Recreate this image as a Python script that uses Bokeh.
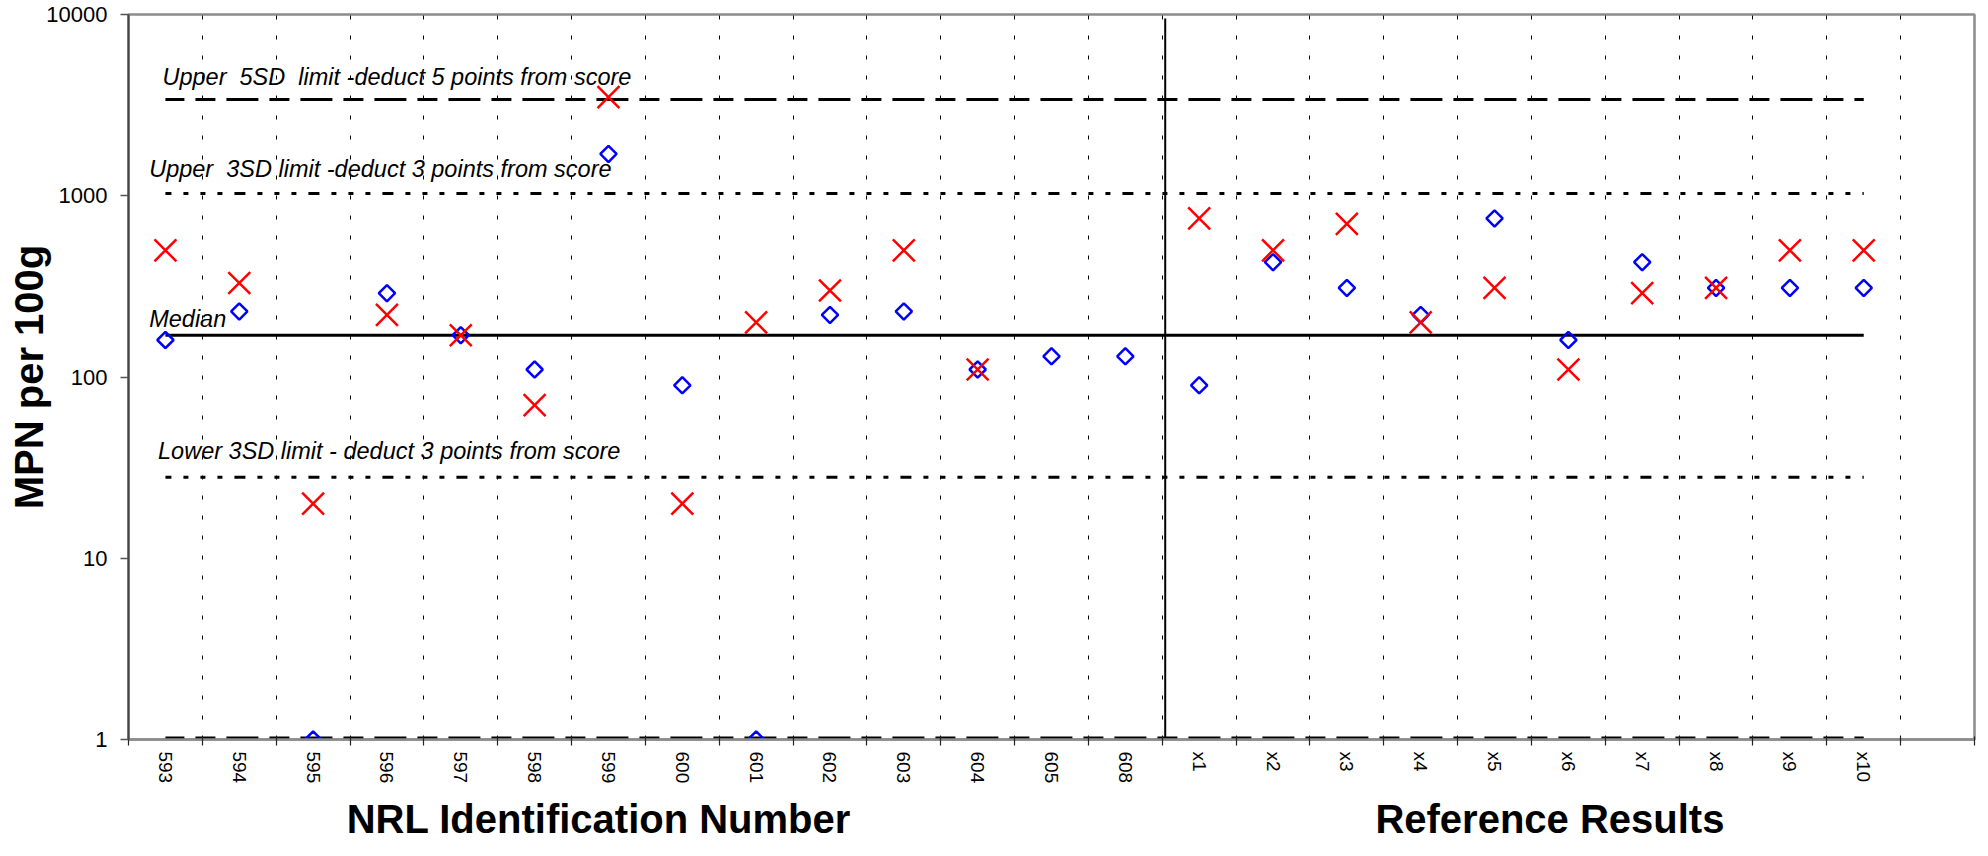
import numpy as np
from bokeh.plotting import figure
from bokeh.models import Range1d, FixedTicker, LinearAxis
from bokeh.core.properties import value
from bokeh.embed import file_html
from bokeh.resources import INLINE

# ---------------- data ----------------
nrl_ids = ["593", "594", "595", "596", "597", "598", "599", "600",
           "601", "602", "603", "604", "605", "608"]
ref_ids = ["x1", "x2", "x3", "x4", "x5", "x6", "x7", "x8", "x9", "x10"]
categories = nrl_ids + ref_ids

# blue diamonds
diamond_vals = [160, 230, 1, 290, 170, 110, 1700, 90, 1, 220, 230, 110, 130, 130,
                90, 430, 310, 220, 750, 160, 430, 310, 310, 310]
# red crosses (NaN = no result)
cross_vals = [500, 330, 20, 220, 170, 70, 3500, 20, 200, 300, 500, 110, np.nan, np.nan,
              750, 500, 700, 200, 310, 110, 290, 310, 500, 500]

upper5_limit = 3400
upper3_limit = 1030
median_value = 170
lower3_limit = 28
lower5_limit = 1

y_ticks = [1, 10, 100, 1000, 10000]
y_tick_labels = ["1", "10", "100", "1000", "10000"]

group_titles = ["NRL Identification Number", "Reference Results"]

label_upper5 = "Upper\u00a0 5SD\u00a0 limit -deduct 5 points from score"
label_upper3 = "Upper\u00a0 3SD limit -deduct 3 points from score"
label_median = "Median"
label_lower3 = "Lower 3SD limit - deduct 3 points from score"

# ---------------- figure ----------------
FONT = "Liberation Sans"
n = len(categories)
centers = [i + 0.5 for i in range(n)]
boundaries = list(range(n + 2))

p = figure(width=1988, height=856,
           x_range=Range1d(0, n + 1), y_range=Range1d(1, 10000),
           y_axis_type="log", output_backend="svg", toolbar_location=None,
           min_border_left=128, min_border_right=14, min_border_top=14,
           min_border_bottom=117)
p.background_fill_color = "white"
p.border_fill_color = "white"
p.outline_line_color = "#8c8c8c"
p.outline_line_width = 2.5

# y axis
ya = p.yaxis[0]
ya.ticker = FixedTicker(ticks=y_ticks, minor_ticks=[])
ya.major_label_overrides = {t: l for t, l in zip(y_ticks, y_tick_labels)}
ya.major_label_text_font = FONT
ya.major_label_text_font_size = "22px"
ya.major_label_text_color = "black"
ya.major_tick_out = 8
ya.major_tick_in = 0
ya.major_tick_line_color = "#555555"
ya.major_tick_line_width = 1.5
ya.minor_tick_out = 0
ya.minor_tick_in = 0
ya.major_label_standoff = 13
ya.axis_line_color = "#444444"
ya.axis_line_width = 2
ya.axis_label = "MPN per 100g"
ya.axis_label_text_font = FONT
ya.axis_label_text_font_style = "bold"
ya.axis_label_text_font_size = "40px"
ya.axis_label_text_color = "black"
ya.axis_label_standoff = -8

# x axis with category labels
xa = p.xaxis[0]
xa.ticker = FixedTicker(ticks=centers, minor_ticks=boundaries)
xa.major_label_overrides = {c: lab for c, lab in zip(centers, categories)}
xa.major_label_orientation = "vertical"
xa.major_label_text_font = FONT
xa.major_label_text_font_size = "19px"
xa.major_label_text_color = "black"
xa.major_tick_out = 0
xa.major_tick_in = 0
xa.minor_tick_out = 6
xa.minor_tick_in = 3
xa.minor_tick_line_color = "#222222"
xa.minor_tick_line_width = 1.2
xa.major_label_standoff = 6
xa.axis_line_color = "#8c8c8c"
xa.axis_line_width = 2.5

# group titles
title_pos = [len(nrl_ids) * 0.455, len(nrl_ids) + len(ref_ids) * 0.525]
ga = LinearAxis(ticker=FixedTicker(ticks=title_pos, minor_ticks=[]),
                major_label_overrides={t: g for t, g in zip(title_pos, group_titles)})
ga.major_label_text_font = FONT
ga.major_label_text_font_style = "bold"
ga.major_label_text_font_size = "40px"
ga.major_label_text_color = "black"
ga.major_tick_out = 0
ga.major_tick_in = 0
ga.major_tick_line_color = None
ga.minor_tick_line_color = None
ga.axis_line_color = None
ga.major_label_standoff = 10
p.add_layout(ga, "below")

# grid
p.xgrid.ticker = FixedTicker(ticks=boundaries[1:-1])
p.xgrid.grid_line_color = "black"
p.xgrid.grid_line_width = 1
p.xgrid.grid_line_dash = "4 16"
p.ygrid.visible = False

# ---------------- limit lines ----------------
dash5 = "32 11 20 11"
dash3 = "11 12 5 12 5 12 5 12"
p.line(centers, [upper5_limit] * n, line_color="black", line_width=3,
       line_dash=dash5, line_dash_offset=13)
p.line(centers, [upper3_limit] * n, line_color="black", line_width=3,
       line_dash=dash3, line_dash_offset=5)
p.line(centers, [median_value] * n, line_color="black", line_width=3)
p.line(centers, [lower3_limit] * n, line_color="black", line_width=3,
       line_dash=dash3, line_dash_offset=5)
p.line(centers, [lower5_limit] * n, line_color="black", line_width=6,
       line_dash=dash5, line_dash_offset=13)

# separator between the two groups
sep_x = len(nrl_ids) + 0.04
p.segment(x0=[sep_x], y0=[1], x1=[sep_x], y1=[9500], line_color="black", line_width=2)

# ---------------- labels ----------------
txt = dict(text_font=value(FONT), text_font_style="italic", text_font_size="23.5px",
           text_color="black", text_baseline="alphabetic", text_align="left")
p.text(x=[0.46], y=[upper5_limit], text=[label_upper5], y_offset=-22, **txt)
p.text(x=[0.28], y=[upper3_limit], text=[label_upper3], y_offset=-24, **txt)
p.text(x=[0.28], y=[median_value], text=[label_median], y_offset=-16, **txt)
p.text(x=[0.40], y=[lower3_limit], text=[label_lower3], y_offset=-26, **txt)

# ---------------- markers ----------------
p.scatter(centers, diamond_vals, marker="square", angle=np.pi / 4, size=11.5,
          fill_color=None, line_color="#0000ff", line_width=2.5)
p.scatter(centers, cross_vals, marker="x", size=31,
          line_color="#ff0000", line_width=2.5)

open("out.html", "w").write(file_html(p, INLINE))
